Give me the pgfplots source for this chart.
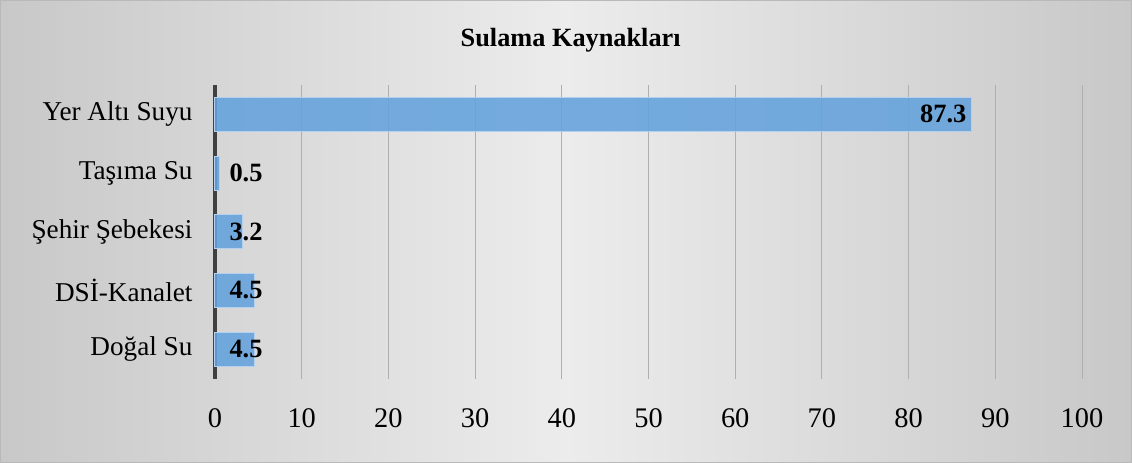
\documentclass[border=0pt]{standalone}
\usepackage{fontspec}
\setmainfont{Liberation Serif}
\usepackage{pgfplots}
\pgfplotsset{compat=1.18}
\definecolor{barblue}{RGB}{100,162,220}
\definecolor{baredge}{RGB}{180,208,238}
\definecolor{gridgray}{RGB}{175,175,175}
\definecolor{axisdark}{RGB}{64,64,64}
\definecolor{bgedge}{RGB}{200,200,200}
\definecolor{bgmid}{RGB}{236,236,236}
\definecolor{framegray}{RGB}{185,185,185}
\begin{document}
\begin{tikzpicture}
\shade[left color=bgedge, right color=bgedge, middle color=bgmid] (-215bp,-84.5bp) rectangle (917bp,378.5bp);
\draw[framegray, line width=1.5bp] (-214.25bp,-83.75bp) rectangle (916.25bp,377.75bp);
\node[font=\fontsize{26.4}{30}\selectfont\bfseries, anchor=base] at (355.7bp,332bp) {Sulama Kaynakları};
\begin{axis}[
  at={(0,0)}, anchor=south west,
  scale only axis, width=867bp, height=293.5bp,
  xmin=0, xmax=100, ymin=-0.5, ymax=4.5,
  xtick={0,10,...,100}, ytick={0,...,4},
  yticklabels={Doğal Su, DSİ-Kanalet, Şehir Şebekesi, Taşıma Su, Yer Altı Suyu},
  xmajorgrids, major grid style={gridgray, line width=1bp},
  extra x ticks={0}, extra x tick labels={},
  extra x tick style={major grid style={axisdark, line width=3.5bp}},
  axis line style={draw=none},
  major tick length=0pt,
  xticklabel style={font=\fontsize{28.5}{32}\selectfont, yshift=-27bp},
  yticklabel style={font=\fontsize{27.3}{31}\selectfont, xshift=-19bp},
  /pgf/number format/assume math mode=true,
  clip=false,
]
\addplot[xbar, bar width=34bp, fill=barblue, fill opacity=0.88, draw=baredge, line width=1bp]
  coordinates {(4.5,0) (4.5,1) (3.2,2) (0.5,3) (87.3,4)};
\addplot[draw=none, mark=none, point meta=explicit, nodes near coords,
  nodes near coords style={anchor=west, xshift=11bp, font=\fontsize{26.5}{30}\selectfont\bfseries}]
  coordinates {(0,0)[4.5] (0,1)[4.5] (0,2)[3.2] (0,3)[0.5]};
\addplot[draw=none, mark=none, point meta=explicit, nodes near coords,
  nodes near coords style={anchor=east, xshift=-2bp, font=\fontsize{26.5}{30}\selectfont\bfseries}]
  coordinates {(87.3,4)[87.3]};
\end{axis}
\end{tikzpicture}
\end{document}
